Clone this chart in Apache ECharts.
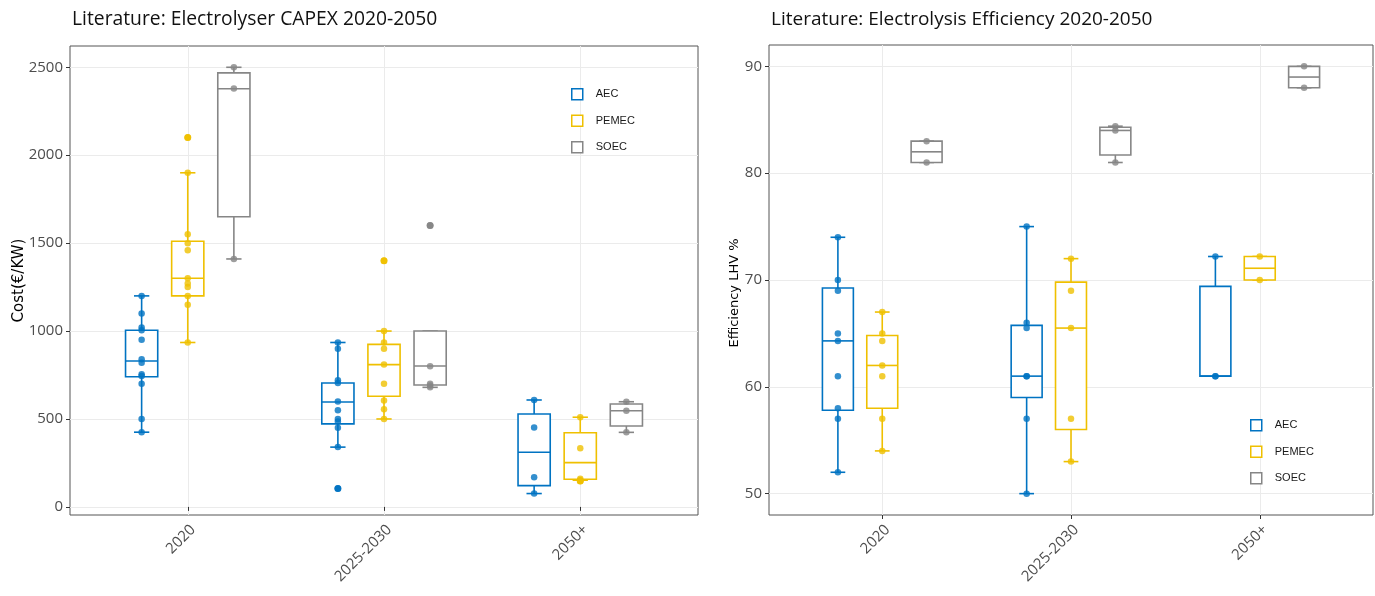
<!DOCTYPE html>
<html>
<head>
<meta charset="utf-8">
<script src="https://cdn.jsdelivr.net/npm/echarts@6/dist/echarts.min.js"></script>
<style>
  html, body { margin: 0; padding: 0; background: #fff; }
  #chart { width: 1375px; height: 596px; }
</style>
</head>
<body>
<div id="chart"></div>
<script>
// Periods on the x axis and electrolyser technologies
const categories = ['2020', '2025-2030', '2050+'];
const techs = ['AEC', 'PEMEC', 'SOEC'];
const techColors = ['#0073C2', '#EFC000', '#868686'];

// CAPEX (€/kW) box summaries per period: [min, Q1, median, Q3, max]
const capexAecBox   = [[425, 740, 830, 1005, 1200], [340, 472, 597, 705, 935], [76, 121, 311, 528, 608]];
const capexPemecBox = [[935, 1200, 1300, 1511, 1900], [500, 629, 809, 924, 1000], [152, 157, 252, 422, 510]];
const capexSoecBox  = [[1410, 1650, 2378, 2468, 2500], [680, 693, 801, 1000, 1000], [424, 460, 547, 585, 598]];

// CAPEX (€/kW) literature values per period
const capexAecPts   = [[1200, 1100, 1020, 1005, 950, 840, 820, 755, 745, 700, 500, 425],
                       [935, 900, 720, 705, 600, 550, 500, 485, 450, 340, 105],
                       [608, 451, 169, 76]];
const capexPemecPts = [[2100, 1900, 1550, 1500, 1460, 1300, 1270, 1250, 1200, 1150, 935],
                       [1400, 1000, 935, 900, 810, 700, 605, 555, 500],
                       [510, 333, 160, 152, 148]];
const capexSoecPts  = [[2500, 2380, 1410],
                       [1600, 800, 700, 690, 680],
                       [598, 547, 425]];

// Efficiency (LHV %) box summaries per period: [min, Q1, median, Q3, max]
const effAecBox   = [[52, 57.8, 64.3, 69.25, 74], [50, 59, 61, 65.75, 75], [61, 61, 61, 69.4, 72.2]];
const effPemecBox = [[54, 58, 62, 64.8, 67], [53, 56, 65.5, 69.8, 72], [70, 70, 71.1, 72.2, 72.2]];
const effSoecBox  = [[81, 81, 82, 83, 83], [81, 81.7, 84, 84.3, 84.4], [88, 88, 89, 90, 90]];

// Efficiency (LHV %) literature values per period
const effAecPts   = [[74, 70, 69, 65, 64.3, 61, 58, 57, 52], [75, 66, 65.5, 61, 61, 57, 50], [72.2, 61, 61]];
const effPemecPts = [[67, 65, 64.3, 62, 61, 57, 54], [72, 69, 65.5, 57, 53], [72.2, 70]];
const effSoecPts  = [[83, 81], [84.4, 84, 81], [90, 88]];

// Axis tick values
const capexTicks = [0, 500, 1000, 1500, 2000, 2500];
const effTicks = [50, 60, 70, 80, 90];
const categoryTicks = [1, 2, 3];

// Dodge / box geometry in x-axis units
const DODGE = 0.235;
const BOX_WIDTH = 0.164;
const CAP_WIDTH = 0.078;

const FONT = 'Open Sans';

function boxRenderer(color) {
  return function (params, api) {
    const x = api.value(0);
    const pMin = api.coord([x, api.value(1)]);
    const pQ1 = api.coord([x, api.value(2)]);
    const pMed = api.coord([x, api.value(3)]);
    const pQ3 = api.coord([x, api.value(4)]);
    const pMax = api.coord([x, api.value(5)]);
    const half = api.size([BOX_WIDTH, 0])[0] / 2;
    const capHalf = api.size([CAP_WIDTH, 0])[0] / 2;
    const cx = pMin[0];
    const st = { stroke: color, lineWidth: 1.6, fill: null };
    return {
      type: 'group',
      children: [
        { type: 'line', shape: { x1: cx, y1: pQ3[1], x2: cx, y2: pMax[1] }, style: st },
        { type: 'line', shape: { x1: cx, y1: pQ1[1], x2: cx, y2: pMin[1] }, style: st },
        { type: 'line', shape: { x1: cx - capHalf, y1: pMax[1], x2: cx + capHalf, y2: pMax[1] }, style: st },
        { type: 'line', shape: { x1: cx - capHalf, y1: pMin[1], x2: cx + capHalf, y2: pMin[1] }, style: st },
        { type: 'rect', shape: { x: cx - half, y: pQ3[1], width: 2 * half, height: pQ1[1] - pQ3[1] },
          style: { fill: '#fff', stroke: color, lineWidth: 1.6 } },
        { type: 'line', shape: { x1: cx - half, y1: pMed[1], x2: cx + half, y2: pMed[1] }, style: st }
      ]
    };
  };
}

function panelSeries(axisIndex, boxes, points) {
  const out = [];
  techs.forEach(function (name, t) {
    const offset = (t - 1) * DODGE;
    const color = techColors[t];
    out.push({
      name: name,
      type: 'custom',
      xAxisIndex: axisIndex,
      yAxisIndex: axisIndex,
      renderItem: boxRenderer(color),
      encode: { x: 0, y: [1, 2, 3, 4, 5] },
      itemStyle: { color: '#fff', borderColor: color },
      data: boxes[t].map(function (b, i) { return [i + 1 + offset].concat(b); }),
      z: 2,
      silent: true
    });
    const pts = [];
    const outliers = [];
    points[t].forEach(function (vals, i) {
      const b = boxes[t][i];
      vals.forEach(function (v) {
        pts.push([i + 1 + offset, v]);
        if (v < b[0] || v > b[4]) outliers.push([i + 1 + offset, v]);
      });
    });
    out.push({
      name: name,
      type: 'scatter',
      xAxisIndex: axisIndex,
      yAxisIndex: axisIndex,
      symbol: 'circle',
      symbolSize: 6.5,
      itemStyle: { color: color, opacity: 0.8 },
      data: pts,
      z: 3,
      silent: true
    });
    out.push({
      name: name,
      type: 'scatter',
      xAxisIndex: axisIndex,
      yAxisIndex: axisIndex,
      symbol: 'circle',
      symbolSize: 7,
      itemStyle: { color: color, opacity: 0.95 },
      data: outliers,
      z: 3,
      silent: true
    });
  });
  return out;
}

function xAxisFor(gridIndex) {
  return {
    type: 'value',
    gridIndex: gridIndex,
    min: 0.4,
    max: 3.6,
    axisLine: { show: false },
    axisTick: { show: true, length: 4, customValues: categoryTicks, lineStyle: { color: '#333', width: 1 } },
    axisLabel: {
      customValues: categoryTicks,
      rotate: 45,
      margin: 7,
      align: 'right',
      verticalAlign: 'top',
      fontFamily: FONT,
      fontSize: 15,
      color: '#4d4d4d',
      formatter: function (v) { return categories[Math.round(v) - 1]; }
    },
    splitLine: { show: true, lineStyle: { color: '#ebebeb', width: 1 } }
  };
}

function yAxisFor(gridIndex, min, max, ticks, name, nameGap, nameStyle) {
  return {
    type: 'value',
    gridIndex: gridIndex,
    min: min,
    max: max,
    name: name,
    nameLocation: 'middle',
    nameGap: nameGap,
    nameMoveOverlap: false,
    nameTextStyle: nameStyle,
    axisLine: { show: false },
    axisTick: { show: true, length: 4, customValues: ticks, lineStyle: { color: '#333', width: 1 } },
    axisLabel: {
      customValues: ticks, margin: 7, fontFamily: FONT, fontSize: 15, color: '#4d4d4d',
      formatter: function (v) { return String(v); }
    },
    splitLine: { show: true, lineStyle: { color: '#ebebeb', width: 1 } }
  };
}

function legendFor(left, top) {
  return {
    orient: 'vertical',
    left: left,
    top: top,
    padding: 0,
    itemWidth: 11,
    itemHeight: 11,
    itemGap: 14,
    icon: 'rect',
    selectedMode: false,
    textStyle: { fontFamily: 'Liberation Sans', fontSize: 11, color: '#1a1a1a', padding: [0, 0, 0, 8] },
    data: techs.map(function (name, t) {
      return { name: name, itemStyle: { color: '#fff', borderColor: techColors[t], borderWidth: 1.5 } };
    })
  };
}

const chart = echarts.init(document.getElementById('chart'), null, { renderer: 'canvas' });

chart.setOption({
  animation: false,
  backgroundColor: '#fff',
  title: [
    { text: 'Literature: Electrolyser CAPEX 2020-2050', left: 67, top: 5,
      textStyle: { fontFamily: FONT, fontSize: 19.3, fontWeight: 'normal', color: '#111' } },
    { text: 'Literature: Electrolysis Efficiency 2020-2050', left: 766, top: 5,
      textStyle: { fontFamily: FONT, fontSize: 19, fontWeight: 'normal', color: '#111' } }
  ],
  legend: [legendFor(571, 88), legendFor(1250, 419)],
  grid: [
    { left: 70, right: 677, top: 46, bottom: 81, show: true, borderColor: '#555', borderWidth: 1, backgroundColor: '#fff' },
    { left: 769, right: 2, top: 45, bottom: 81, show: true, borderColor: '#555', borderWidth: 1, backgroundColor: '#fff' }
  ],
  xAxis: [xAxisFor(0), xAxisFor(1)],
  yAxis: [
    yAxisFor(0, -46, 2621, capexTicks, 'Cost(€/KW)', 43,
      { fontFamily: 'DejaVu Sans', fontSize: 15, color: '#000' }),
    yAxisFor(1, 48, 92, effTicks, 'Efficiency LHV %', 28,
      { fontFamily: 'DejaVu Sans', fontSize: 13, color: '#000', padding: [0, 26, 0, 0] })
  ],
  series: panelSeries(0, [capexAecBox, capexPemecBox, capexSoecBox], [capexAecPts, capexPemecPts, capexSoecPts])
    .concat(panelSeries(1, [effAecBox, effPemecBox, effSoecBox], [effAecPts, effPemecPts, effSoecPts]))
});
</script>
</body>
</html>
